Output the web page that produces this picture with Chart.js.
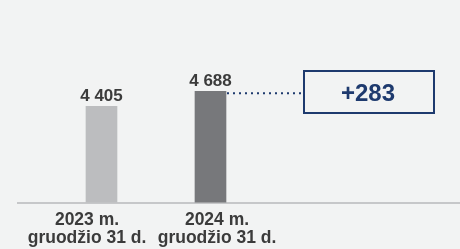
<!DOCTYPE html>
<html>
<head>
<meta charset="utf-8">
<script src="https://cdn.jsdelivr.net/npm/chart.js@4/dist/chart.umd.min.js"></script>
<style>
html,body{margin:0;padding:0;background:#f2f3f3;overflow:hidden;}
#wrap{width:460px;height:249px;position:relative;overflow:hidden;}
canvas{display:block;}
</style>
</head>
<body>
<div id="wrap"><canvas id="c" width="460" height="256"></canvas></div>
<script>
// ---- data ----
const categories = ["2023 m.\ngruodžio 31 d.", "2024 m.\ngruodžio 31 d."];
const values = [4405, 4688];
const barColors = ["#bcbdbf", "#77787b"];

const textGray = "#3b3b3b";
const navy = "#1e3a6e";
const fontFam = "'Liberation Sans', Arial, sans-serif";

function fmt(v){ return String(v).replace(/\B(?=(\d{3})+(?!\d))/g, " "); }

const valueLabels = {
  id: "valueLabels",
  afterDatasetsDraw(chart){
    const ctx = chart.ctx;
    const meta = chart.getDatasetMeta(0);
    ctx.save();
    ctx.font = "bold 17px " + fontFam;
    ctx.fillStyle = textGray;
    ctx.textAlign = "center";
    ctx.textBaseline = "alphabetic";
    meta.data.forEach((bar, i) => {
      ctx.fillText(fmt(values[i]), bar.x, bar.y - 5);
    });
    ctx.restore();
  }
};

const diffBox = {
  id: "diffBox",
  afterDatasetsDraw(chart, args, opts){
    const ctx = chart.ctx;
    const meta = chart.getDatasetMeta(0);
    const last = meta.data[meta.data.length - 1];
    const diff = values[values.length - 1] - values[0];
    const bx = opts.left, by = opts.top, bw = opts.width, bh = opts.height;
    const lineY = last.y + 2;
    ctx.save();
    ctx.strokeStyle = navy;
    ctx.lineWidth = 2;
    ctx.setLineDash([2, 4]);
    ctx.beginPath();
    ctx.moveTo(last.x + last.width / 2 + 1, lineY);
    ctx.lineTo(bx, lineY);
    ctx.stroke();
    ctx.setLineDash([]);
    ctx.strokeRect(bx + 1, by + 1, bw - 2, bh - 2);
    ctx.font = "bold 24px " + fontFam;
    ctx.fillStyle = navy;
    ctx.textAlign = "center";
    ctx.textBaseline = "middle";
    ctx.fillText((diff >= 0 ? "+" : "") + fmt(diff), bx + bw / 2 - 1, by + bh / 2 + 2);
    ctx.restore();
  }
};

new Chart(document.getElementById("c"), {
  type: "bar",
  data: {
    datasets: [{
      data: values.map((v, i) => ({ x: i, y: v })),
      backgroundColor: barColors,
      borderWidth: 0,
      barThickness: 31,
      xAxisID: "x",
      yAxisID: "y"
    }]
  },
  options: {
    responsive: false,
    animation: false,
    devicePixelRatio: 1,
    layout: { padding: { left: 18, right: 0, top: 0, bottom: 0 } },
    plugins: {
      legend: { display: false },
      tooltip: { enabled: false },
      diffBox: { left: 303, top: 70, width: 132, height: 44 }
    },
    scales: {
      y: { display: false, min: 2600, max: 6400 },
      x: {
        type: "linear", display: false, offset: false, min: -0.766, max: 3.289
      },
      xl: {
        type: "linear", position: "bottom", offset: false, min: -0.5308, max: 2.869,
        grid: { display: false, drawTicks: false, tickLength: 0 },
        border: { display: true, color: "#c6c7c9", width: 2 },
        afterBuildTicks(scale){ scale.ticks = categories.map((c, i) => ({ value: i })); },
        ticks: {
          autoSkip: false,
          maxRotation: 0,
          padding: 8,
          color: textGray,
          font: { family: fontFam, size: 17.5, weight: "bold", lineHeight: 1.07 },
          callback(value){ const c = categories[value]; return c ? c.split("\n") : ""; }
        }
      }
    }
  },
  plugins: [valueLabels, diffBox]
});
</script>
</body>
</html>
